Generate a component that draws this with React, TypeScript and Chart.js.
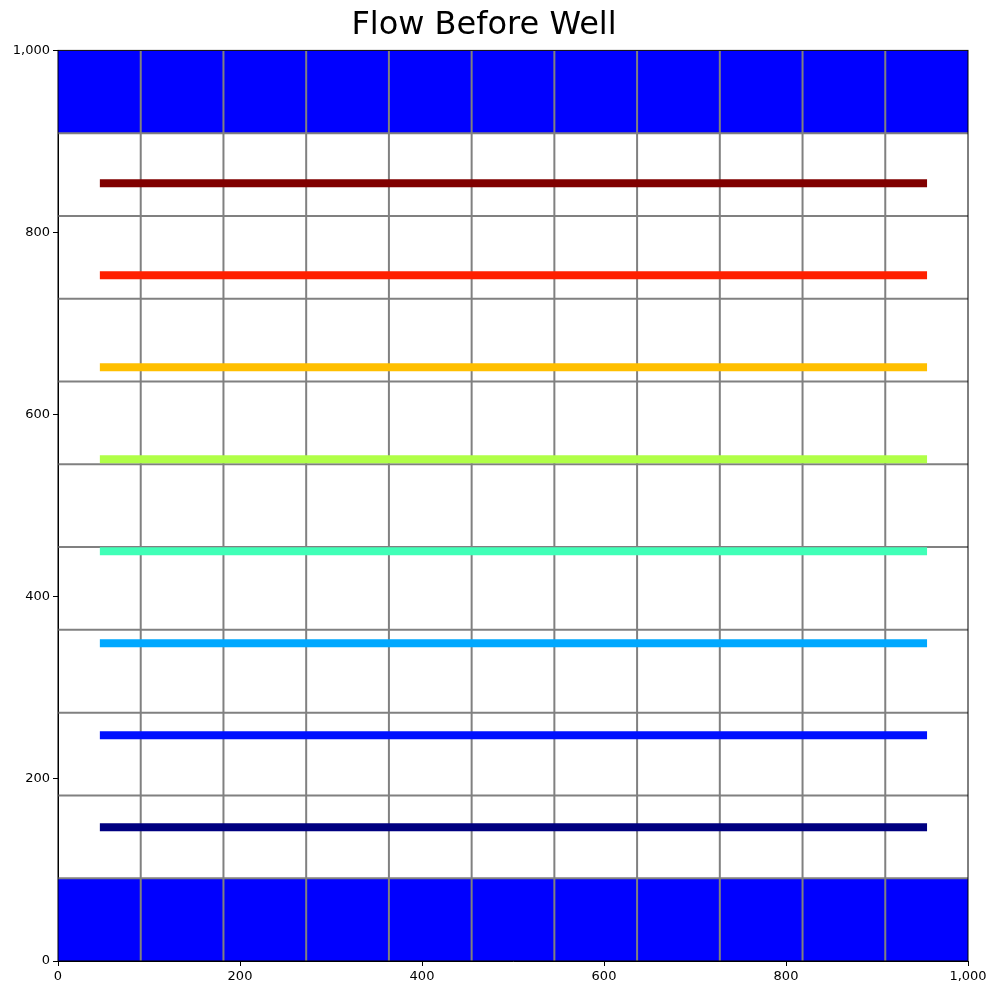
import React, { useEffect, useRef } from 'react';
import { Chart, registerables } from 'chart.js';

Chart.register(...registerables);

// cell edges of the 11x11 grid
const cellEdges = [0, 90.91, 181.82, 272.73, 363.64, 454.55, 545.45, 636.36, 727.27, 818.18, 909.09, 1000];
// flow lines
const flowLevels = [147, 248, 349, 450, 551, 652, 753, 854];
const flowColors = ['#000080', '#0010ff', '#00a8ff', '#40ffb7', '#b0ff47', '#ffbf00', '#ff2000', '#800000'];
const flowStart = 46;
const flowEnd = 955;
const tickValues = [0, 200, 400, 600, 800, 1000];

const App: React.FC = () => {
  const canvasRef = useRef<HTMLCanvasElement | null>(null);

  useEffect(() => {
    document.body.style.margin = '0';
    if (!canvasRef.current) return;

    const flows = flowLevels.map((y, i) => ({
      data: [{ x: flowStart, y }, { x: flowEnd, y }],
      borderColor: flowColors[i],
      borderWidth: 8,
      borderCapStyle: 'butt' as const,
      pointRadius: 0,
      order: 0,
    }));

    const inner = cellEdges.slice(1, -1);
    const gridLines = [
      ...inner.map(v => ({ data: [{ x: v, y: 0 }, { x: v, y: 1000 }] })),
      ...inner.map(v => ({ data: [{ x: 0, y: v }, { x: 1000, y: v }] })),
    ].map(d => ({ ...d, borderColor: '#808080', borderWidth: 2, pointRadius: 0, order: 1 }));

    const fills = [
      { data: [{ x: 0, y: 1000 }, { x: 1000, y: 1000 }], fill: { value: cellEdges[10] } },
      { data: [{ x: 0, y: cellEdges[1] }, { x: 1000, y: cellEdges[1] }], fill: { value: 0 } },
    ].map(d => ({ ...d, backgroundColor: '#0000ff', borderWidth: 0, pointRadius: 0, order: 2 }));

    const frame = {
      id: 'frame',
      afterDatasetsDraw(chart: Chart) {
        const { ctx, chartArea: a } = chart;
        ctx.save();
        ctx.strokeStyle = '#000';
        ctx.lineWidth = 1;
        ctx.strokeRect(a.left, a.top, a.right - a.left, a.bottom - a.top);
        ctx.restore();
      },
    };

    const chart = new Chart(canvasRef.current, {
      type: 'line',
      data: { datasets: [...flows, ...gridLines, ...fills] as any },
      options: {
        animation: false,
        responsive: false,
        layout: { padding: { right: 32 } },
        plugins: {
          legend: { display: false },
          tooltip: { enabled: false },
          title: {
            display: true,
            text: 'Flow Before Well',
            color: '#000',
            font: { family: 'DejaVu Sans', size: 32, weight: 'normal' },
            padding: { top: 6, bottom: 6 },
          },
        },
        scales: {
          x: {
            type: 'linear',
            min: 0,
            max: 1000,
            afterBuildTicks: s => { s.ticks = tickValues.map(v => ({ value: v })); },
            afterFit: s => { s.height = 39; },
            ticks: { color: '#000', font: { family: 'DejaVu Sans', size: 13 }, maxRotation: 0 },
            grid: { drawOnChartArea: false, tickLength: 5, color: '#000' },
            border: { color: '#000' },
          },
          y: {
            type: 'linear',
            min: 0,
            max: 1000,
            afterBuildTicks: s => { s.ticks = tickValues.map(v => ({ value: v })); },
            afterFit: s => { s.width = 58; },
            ticks: { color: '#000', font: { family: 'DejaVu Sans', size: 13 } },
            grid: { drawOnChartArea: false, tickLength: 5, color: '#000' },
            border: { color: '#000' },
          },
        },
      },
      plugins: [frame],
    });

    return () => chart.destroy();
  }, []);

  return <canvas ref={canvasRef} width={1000} height={1000} style={{ display: 'block' }} />;
};

export default App;
